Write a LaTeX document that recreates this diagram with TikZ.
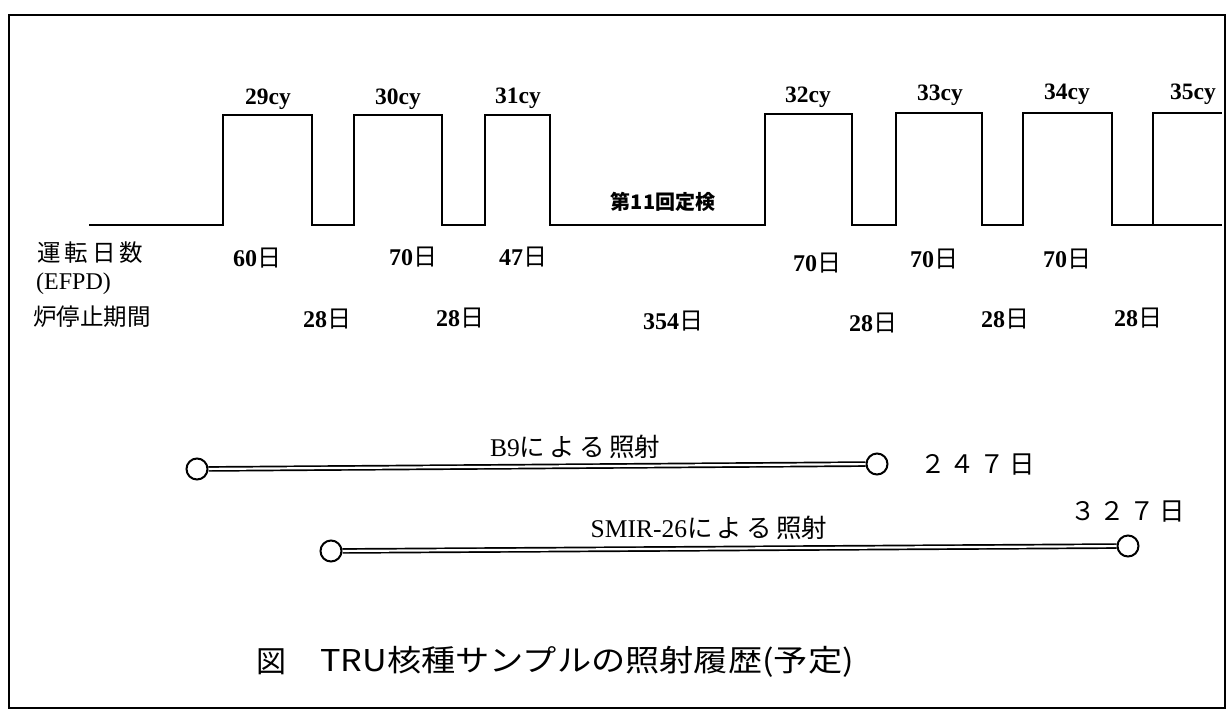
\documentclass[tikz,border=0pt]{standalone}
\usepackage{fontspec}
\setmainfont{Liberation Serif}
\newfontfamily\jp{Noto Sans CJK JP}
\newcommand\nichi{{\jp\mdseries 日}}
\begin{document}
\begin{tikzpicture}[x=1pt,y=-1pt,
  every node/.style={inner sep=0pt},
  cyl/.style={font=\fontsize{23.5}{23.5}\selectfont\bfseries},
  day/.style={font=\fontsize{24}{24}\selectfont\bfseries},
  jpl/.style={font=\jp\fontsize{23.5}{23.5}\selectfont, anchor=west},
  wave/.style={line width=2.6pt, line join=miter},
  frame/.style={line width=1.9pt},
  endpt/.style={circle, draw, line width=2pt, minimum size=21pt, fill=white},
  irr/.style={double, double distance=2.2pt, line width=1.7pt},
  irrlbl/.style={font=\fontsize{25.5}{25.5}\selectfont},
  total/.style={font=\jp\fontsize{25.5}{25.5}\selectfont, anchor=west}]
\useasboundingbox (0,0) rectangle (1228,716);
\draw[frame] (9,15) rectangle (1225,708);
% operating cycles
\draw[wave] (89,225) -- (223,225) -- (223,115) -- (312,115) -- (312,225)
  -- (354,225) -- (354,115) -- (442,115) -- (442,225)
  -- (485,225) -- (485,115) -- (550,115) -- (550,225)
  -- (765,225) -- (765,114) -- (852,114) -- (852,225)
  -- (896,225) -- (896,113) -- (982,113) -- (982,225)
  -- (1023,225) -- (1023,113) -- (1112,113) -- (1112,225)
  -- (1153,225) -- (1153,113) -- (1222,113);
\draw[wave] (1153,225) -- (1222,225);
\node[cyl] (c29) at (268,99) {29cy};
\node[cyl] (c30) at (398,99) {30cy};
\node[cyl] (c31) at (518,98) {31cy};
\node[cyl] (c32) at (808,97) {32cy};
\node[cyl] (c33) at (940,95) {33cy};
\node[cyl] (c34) at (1067,94) {34cy};
\node[cyl] (c35) at (1193,94) {35cy};
\node[font=\jp\bfseries\fontsize{20}{20}\selectfont] (insp) at (663,202) {第11回定検};
% row labels
\node[jpl] (opd) at (37,253) {運\,転\,日\,数};
\node[anchor=west, font=\fontsize{24}{24}\selectfont] (efpd) at (36,284) {(EFPD)};
\node[jpl] (stop) at (33,317) {炉停止期間};
% operating days
\node[day] (d29) at (257,258) {60\nichi};
\node[day] (d30) at (413,257) {70\nichi};
\node[day] (d31) at (523,257) {47\nichi};
\node[day] (d32) at (817,263) {70\nichi};
\node[day] (d33) at (934,259) {70\nichi};
\node[day] (d34) at (1067,259) {70\nichi};
% shutdown periods
\node[day] (s1) at (327,319) {28\nichi};
\node[day] (s2) at (460,318) {28\nichi};
\node[day] (s3) at (673,321) {354\nichi};
\node[day] (s4) at (873,323) {28\nichi};
\node[day] (s5) at (1005,319) {28\nichi};
\node[day] (s6) at (1138,318) {28\nichi};
% irradiation B9
\node[endpt] (b9a) at (197,469) {};
\node[endpt] (b9b) at (877,464) {};
\draw[irr] (b9a) -- (b9b);
\node[irrlbl] (b9l) at (575,447) {B9{\jp に\,よ\,る\,照射}};
\node[total] (b9t) at (920,465) {２\,４\,７\,日};
% irradiation SMIR-26
\node[endpt] (sma) at (331,551) {};
\node[endpt] (smb) at (1128,546) {};
\draw[irr] (sma) -- (smb);
\node[irrlbl] (sml) at (709,528) {SMIR-26{\jp に\,よ\,る\,照射}};
\node[total] (smt) at (1070,512) {３\,２\,７\,日};
% caption
\node[anchor=west, font=\jp\fontsize{30}{30}\selectfont] (capfig) at (256,662) {図};
\node[anchor=west, font=\jp\fontsize{30}{30}\selectfont] (cap) at (320,662) {\scalebox{1.14}[1]{TRU核種サンプルの照射履歴(予定)}};
\end{tikzpicture}
\end{document}
